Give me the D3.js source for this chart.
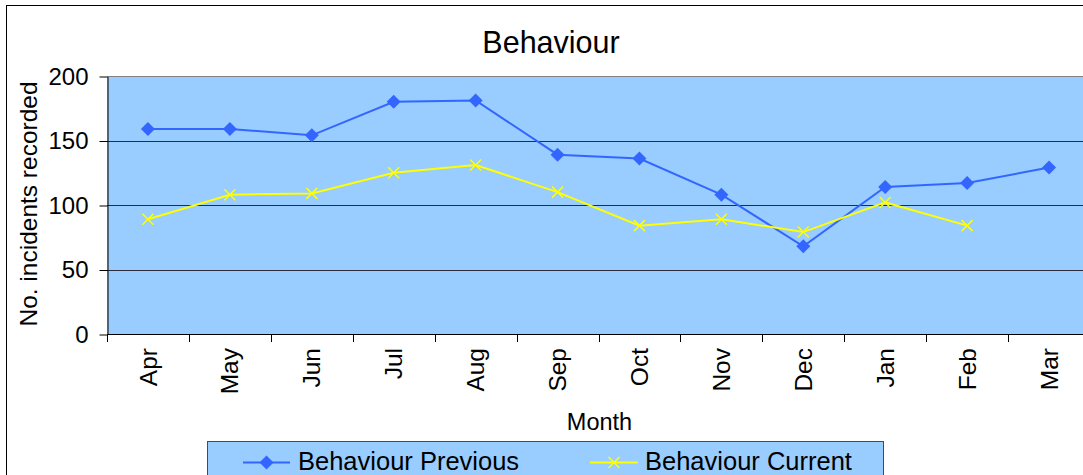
<!DOCTYPE html>
<html>
<head>
<meta charset="utf-8">
<script src="https://cdn.jsdelivr.net/npm/d3@7"></script>
<style>
  html, body { margin: 0; padding: 0; background: #fff; }
  svg { display: block; font-family: "Liberation Sans", Arial, sans-serif; }
</style>
</head>
<body>
<svg id="chart" width="1083" height="475"></svg>
<script>
const months = ["Apr","May","Jun","Jul","Aug","Sep","Oct","Nov","Dec","Jan","Feb","Mar"];
const previousValues = [159,159,154,180,181,139,136,108,68,114,117,129];
const currentValues = [89,108,109,125,131,110,84,89,79,102,84,null];
const yTicks = [0,50,100,150,200];
const seriesNames = ["Behaviour Previous","Behaviour Current"];
const titleText = "Behaviour";
const xTitle = "Month";
const yTitle = "No. incidents recorded";

const svg = d3.select("#chart");
const plot = {left:107, right:1090, top:76, bottom:334};

// outer chart border
svg.append("rect").attr("x",6.5).attr("y",5.5).attr("width",1200).attr("height",600)
  .attr("fill","#fff").attr("stroke","#000").attr("stroke-width",1);

const x = d3.scaleBand().domain(months).range([plot.left, plot.right]).padding(0);
const y = d3.scaleLinear().domain([0,200]).range([plot.bottom, plot.top]);
const cx = d => x(d) + x.bandwidth()/2;

// plot background
svg.append("rect").attr("x",plot.left).attr("y",plot.top)
  .attr("width",plot.right-plot.left).attr("height",plot.bottom-plot.top)
  .attr("fill","#99CCFF");

// gridlines
svg.append("g").selectAll("line").data(yTicks.filter(v=>v>0)).join("line")
  .attr("x1",plot.left).attr("x2",plot.right)
  .attr("y1",d=>Math.round(y(d))+0.5).attr("y2",d=>Math.round(y(d))+0.5)
  .attr("stroke",d=>d===200?"#808080":"#2b2b3b").attr("stroke-width",1);

// y axis
const yAxis = svg.append("g").attr("transform",`translate(${plot.left+0.5},0.5)`)
  .call(d3.axisLeft(y).tickValues(yTicks).tickSize(8).tickPadding(11).tickSizeOuter(0));
yAxis.select(".domain").attr("stroke","#000");
yAxis.selectAll("line").attr("stroke","#000");
yAxis.selectAll("text").attr("font-size",24).attr("fill","#000")
  .attr("font-family","Liberation Sans, Arial, sans-serif");

// x axis line
svg.append("line").attr("x1",plot.left).attr("x2",plot.right)
  .attr("y1",plot.bottom+0.5).attr("y2",plot.bottom+0.5).attr("stroke","#000");
// x ticks at category boundaries
const bounds = months.map(m=>x(m)).concat([x.range()[1]]);
svg.append("g").selectAll("line").data(bounds).join("line")
  .attr("x1",d=>Math.round(d)+0.5).attr("x2",d=>Math.round(d)+0.5)
  .attr("y1",plot.bottom).attr("y2",plot.bottom+8).attr("stroke","#000");
// x labels (rotated)
svg.append("g").selectAll("text").data(months).join("text")
  .attr("transform",d=>`translate(${cx(d)},348) rotate(-90)`)
  .attr("text-anchor","end").attr("dy","0.35em")
  .attr("font-size",24.5).attr("fill","#000").text(d=>d);

// lines
const line = d3.line().defined(d=>d.v!=null).x(d=>cx(d.m)).y(d=>y(d.v));
const prevData = months.map((m,i)=>({m, v: previousValues[i]}));
const curData = months.map((m,i)=>({m, v: currentValues[i]}));

svg.append("path").datum(prevData).attr("d",line)
  .attr("fill","none").attr("stroke","#3366FF").attr("stroke-width",2);
svg.append("path").datum(curData).attr("d",line)
  .attr("fill","none").attr("stroke","#FFFF00").attr("stroke-width",2);

const diamond = (px,py,r) => `M${px},${py-r}L${px+r},${py}L${px},${py+r}L${px-r},${py}Z`;
const cross = (px,py,r) => `M${px-r},${py-r}L${px+r},${py+r}M${px-r},${py+r}L${px+r},${py-r}`;

svg.append("g").selectAll("path").data(prevData.filter(d=>d.v!=null)).join("path")
  .attr("d",d=>diamond(cx(d.m),y(d.v),7)).attr("fill","#3366FF");
svg.append("g").selectAll("path").data(curData.filter(d=>d.v!=null)).join("path")
  .attr("d",d=>cross(cx(d.m),y(d.v),5.5)).attr("stroke","#FFFF00").attr("stroke-width",1.5).attr("fill","none");

// titles
svg.append("text").attr("x",551).attr("y",53).attr("text-anchor","middle")
  .attr("font-size",30.5).attr("fill","#000").text(titleText);
svg.append("text").attr("x",(plot.left+plot.right)/2+1).attr("y",430).attr("text-anchor","middle")
  .attr("font-size",23.5).attr("fill","#000").text(xTitle);
svg.append("text").attr("transform",`translate(37,${(plot.top+plot.bottom)/2-1}) rotate(-90)`)
  .attr("text-anchor","middle").attr("font-size",24.5).attr("fill","#000").text(yTitle);

// legend
const lg = svg.append("g");
lg.append("rect").attr("x",207.5).attr("y",441.5).attr("width",676).attr("height",42)
  .attr("fill","#99CCFF").attr("stroke","#4a4a4a");
const legendItems = [
  {name: seriesNames[0], color:"#3366FF", x1:243, x2:290, tx:298, mark:"diamond"},
  {name: seriesNames[1], color:"#FFFF00", x1:590, x2:638, tx:645, mark:"cross"}
];
const ly = 462.5;
legendItems.forEach(it=>{
  lg.append("line").attr("x1",it.x1).attr("x2",it.x2).attr("y1",ly).attr("y2",ly)
    .attr("stroke",it.color).attr("stroke-width",2);
  const mx = (it.x1+it.x2)/2;
  if (it.mark==="diamond") lg.append("path").attr("d",diamond(mx,ly,7)).attr("fill",it.color);
  else lg.append("path").attr("d",cross(mx,ly,5.5)).attr("stroke",it.color).attr("stroke-width",1.5);
  lg.append("text").attr("x",it.tx).attr("y",469.5).attr("font-size",25.5).attr("fill","#000").text(it.name);
});
</script>
</body>
</html>
